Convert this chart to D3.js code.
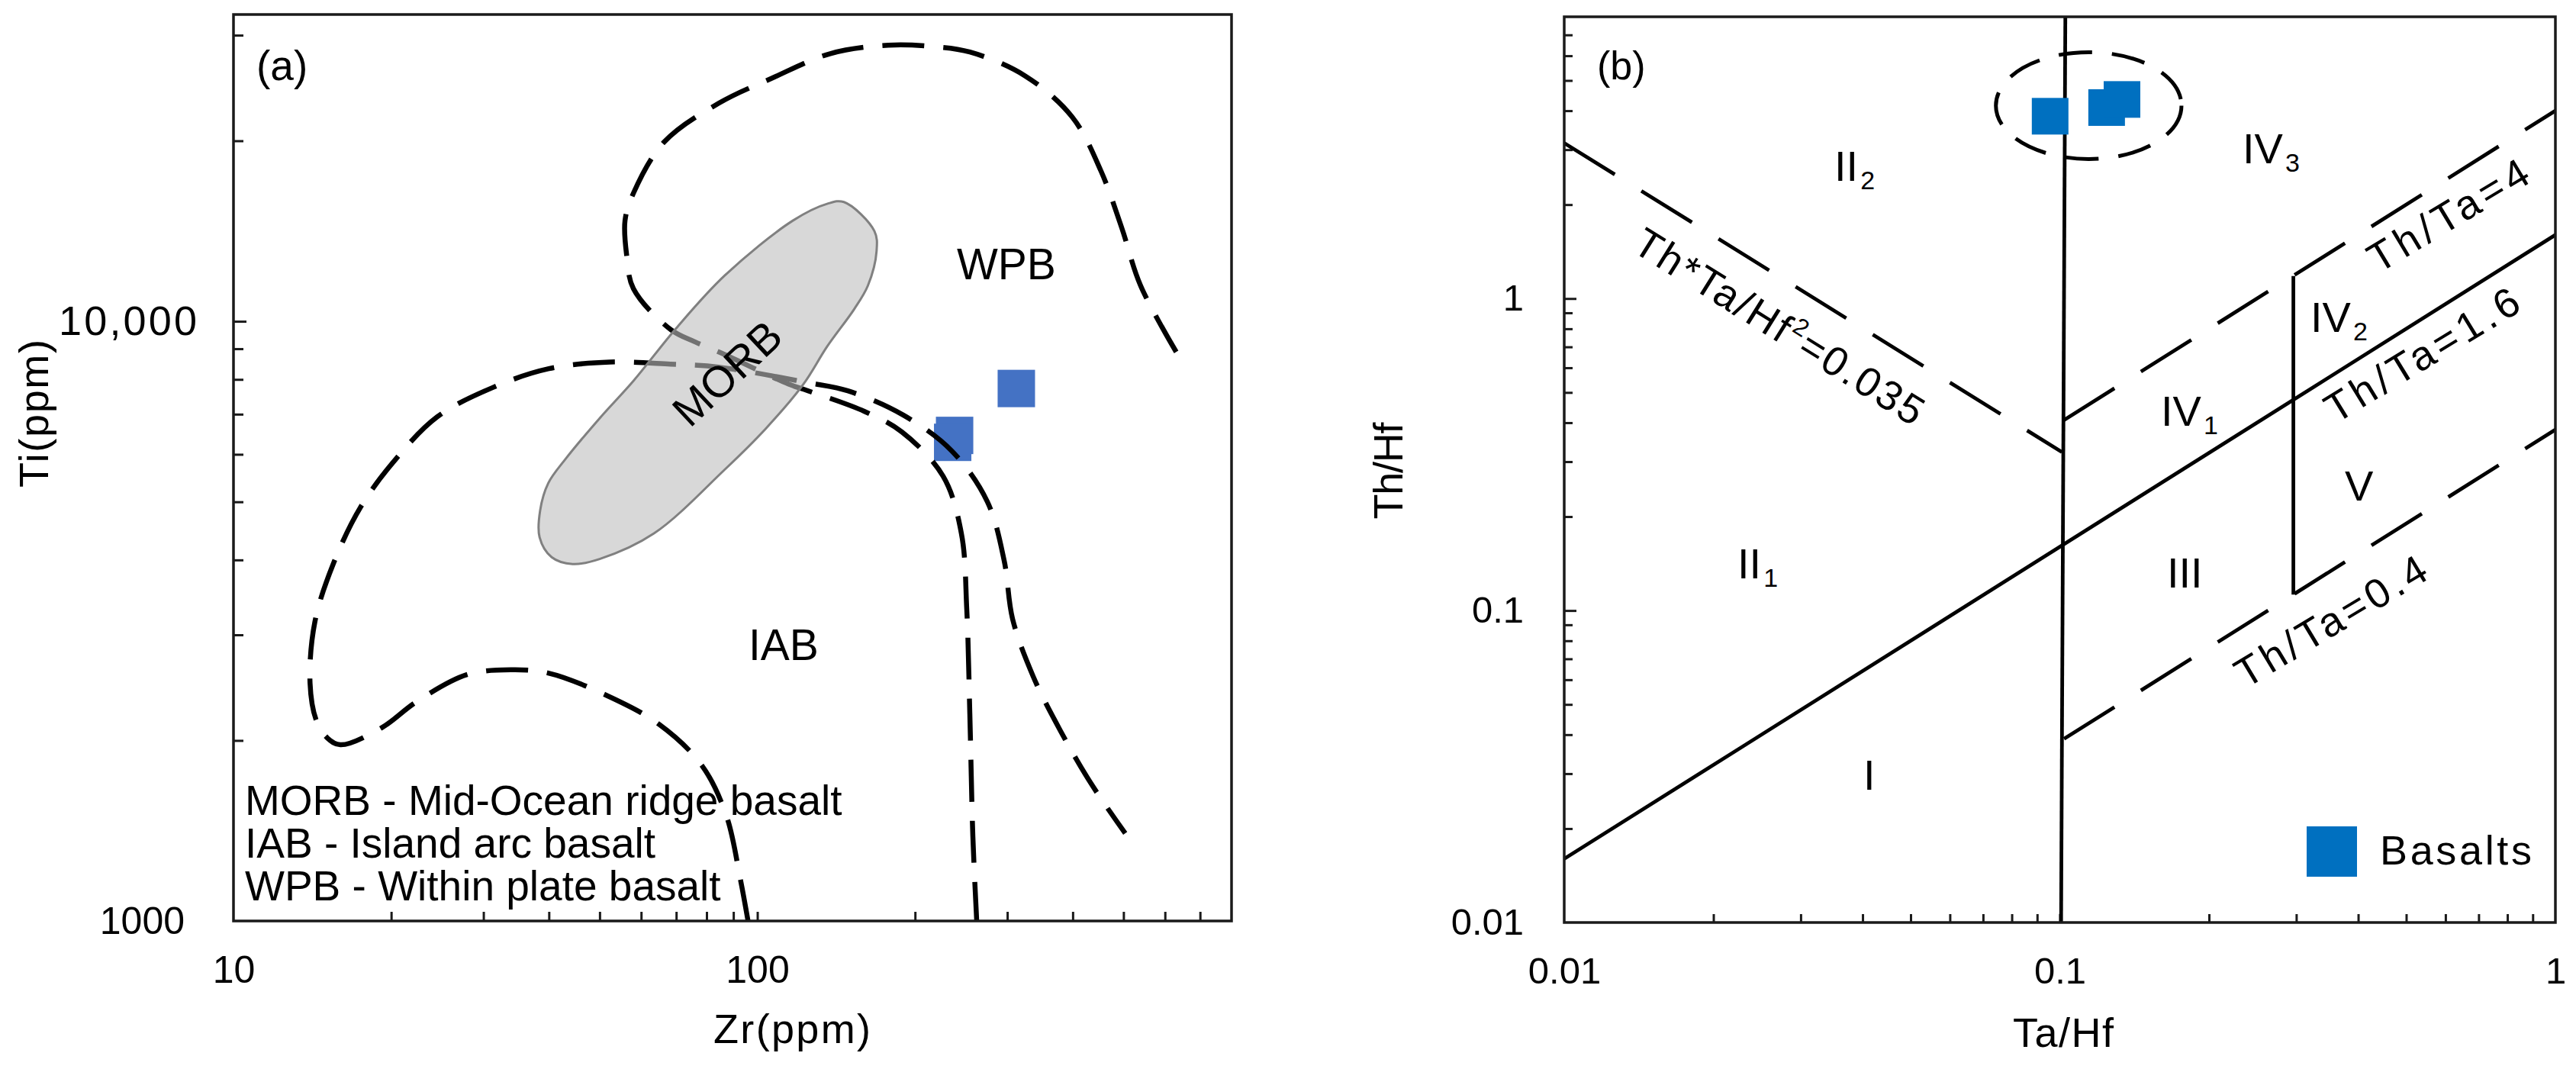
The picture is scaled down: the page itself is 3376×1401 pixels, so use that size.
<!DOCTYPE html>
<html>
<head>
<meta charset="utf-8">
<script src="https://cdn.jsdelivr.net/npm/d3@7/dist/d3.min.js"></script>
<style>
html,body{margin:0;padding:0;background:#fff;}
svg{display:block;}
text{font-family:"Liberation Sans",Arial,Helvetica,sans-serif;fill:#000;}
</style>
</head>
<body>
<svg id="chart" width="3376" height="1401"></svg>
<script>
// ================= DATA: panel (a) Ti vs Zr =================
const zrDomain = [10, 804];
const tiDomain = [1000, 32480];
const zrTickValues = [20,30,40,50,60,70,80,90,100,200,300,400,500,600,700];
const zrLabelValues = [10, 100];
const zrLabelText = ["10", "100"];
const tiTickValues = [2000,3000,4000,5000,6000,7000,8000,9000,10000,20000,30000];
const tiLabelValues = [1000, 10000];
const tiLabelText = ["1000", "10,000"];

// IAB field boundary (dashed)
const iabZr = [96,92.7,87.3,78.3,64.9,51.5,39.9,33.9,27.9,22.3,19.2,16.0,15.1,14.4,14.0,14.3,15.5,17.5,20.4,24.5,31.2,40.0,52.3,68.3,84.4,124.2,148.8,190.1,234.9,274.9,296,307.1,336.3,379.3,433.8,503.9];
const iabTi = [1000,1181,1497,1819,2129,2379,2591,2624,2575,2317,2101,1967,2020,2157,2494,3152,3937,4907,5888,6931,7749,8337,8551,8484,8385,7909,7657,6973,6084,5000,3986,3189,2556,2073,1694,1400];

// WPB field boundary (dashed)
const wpbZr = [630.5,539,496,453,399,324,254.5,214.5,177.8,137.8,106.8,84.4,66.3,58.0,55.9,56.3,58.0,68.4,76.1,85.6,114.6,125.0,160.2,188.8,226.3,245.2,251.1,254.5,257.9,262.3];
const wpbTi = [8890,11470,14330,17800,21920,25680,28120,28740,28870,27950,25450,23100,19880,16350,14720,12900,11340,9680,9237,8842,7860,7657,7074,6538,5515,4429,3304,2211,1384,1000];

// MORB field (closed outline)
const morbZr = [146.3,167.3,168.9,162.6,153.1,135.9,122.4,103.8,86.7,63.5,50.0,44.4,40.5,38.4,38.5,39.9,43.0,50.0,58.0,70.0,86.7,116.9,135.9];
const morbTi = [15810,14140,13090,11470,10480,9076,7850,6624,5662,4429,4015,3937,4042,4364,4841,5373,5888,6891,7954,9737,11930,14720,15700];

// Basalt samples
const sampleZr = [312.2, 238.0, 236.0];
const sampleTi = [7726, 6452, 6283];

// ================= DATA: panel (b) Th/Hf vs Ta/Hf =================
const taHfDomain = [0.01, 1];
const thHfDomain = [0.01, 8];
const taHfTickValues = [0.02,0.03,0.04,0.05,0.06,0.07,0.08,0.09,0.1,0.2,0.3,0.4,0.5,0.6,0.7,0.8,0.9];
const taHfLabelValues = [0.01, 0.1, 1];
const taHfLabelText = ["0.01", "0.1", "1"];
const thHfTickValues = [0.02,0.03,0.04,0.05,0.06,0.07,0.08,0.09,0.1,0.2,0.3,0.4,0.5,0.6,0.7,0.8,0.9,1,2,3,4,5,6,7];
const thHfLabelValues = [0.01, 0.1, 1];
const thHfLabelText = ["0.01", "0.1", "1"];

// boundary lines (end points)
const vLine01TaHf = [0.1006, 0.1026], vLine01ThHf = [0.01, 8];
const vLine03TaHf = [0.296, 0.296],   vLine03ThHf = [0.1125, 1.18];
const thTa16TaHf = [0.01, 1],   thTa16ThHf = [0.016, 1.6];
const thTa4TaHf  = [0.102, 1],  thTa4ThHf  = [0.408, 4];
const thTa04TaHf = [0.102, 1],  thTa04ThHf = [0.0388, 0.38];
const thTaHf2TaHf = [0.01, 0.101], thTaHf2ThHf = [3.15, 0.322];

// samples
const basaltTaHf = [0.0956, 0.1243, 0.1335];
const basaltThHf = [3.84, 4.094, 4.346];
// dashed ring around samples: extents
const ringTaHf = [0.0743, 0.176];
const ringThHf = [2.80, 6.16];

// ================= DRAW =================
const svg = d3.select("#chart");
const defs = svg.append("defs");

function styleAxis(g, fs) {
  g.attr("color", "#1a1a1a");
  g.select(".domain").remove();
  g.selectAll("line").attr("stroke-width", 3);
  g.selectAll("text").attr("font-size", fs).attr("fill", "#000");
}

// ---------- Panel A ----------
const A = {l:306, t:19, r:1614, b:1207};
const xA = d3.scaleLog().domain(zrDomain).range([A.l, A.r]);
const yA = d3.scaleLog().domain(tiDomain).range([A.b, A.t]);
const gA = svg.append("g");
defs.append("clipPath").attr("id","clipA").append("rect")
  .attr("x",A.l).attr("y",A.t).attr("width",A.r-A.l).attr("height",A.b-A.t);

// ticks
gA.append("g").attr("transform",`translate(0,${A.b})`)
  .call(d3.axisBottom(xA).tickValues(zrTickValues).tickSize(-12).tickFormat(""))
  .call(g=>styleAxis(g,50));
gA.append("g").attr("transform",`translate(${A.l},0)`)
  .call(d3.axisLeft(yA).tickValues(tiTickValues).tickSize(-13).tickFormat(""))
  .call(g=>styleAxis(g,50))
  .call(g=>g.selectAll(".tick").filter(d=>d===10000).select("line").attr("x2",17));
// labels
gA.append("g").attr("transform",`translate(0,${A.b})`)
  .call(d3.axisBottom(xA).tickValues(zrLabelValues).tickSize(0).tickPadding(45)
    .tickFormat(d=>zrLabelText[zrLabelValues.indexOf(d)]))
  .call(g=>styleAxis(g,50));
gA.append("g").attr("transform",`translate(${A.l},0)`)
  .call(d3.axisLeft(yA).tickValues(tiLabelValues).tickSize(0).tickPadding(48)
    .tickFormat(d=>tiLabelText[tiLabelValues.indexOf(d)]))
  .call(g=>styleAxis(g,50))
  .call(g=>{
    g.selectAll(".tick").filter(d=>d===1000).select("text").attr("x",-64);
    g.selectAll(".tick").filter(d=>d===10000).select("text").attr("font-size",54)
      .attr("textLength",181).attr("lengthAdjust","spacing");
  });

// samples (under the dashed curves)
gA.append("g").selectAll("rect").data(d3.zip(sampleZr, sampleTi)).join("rect")
  .attr("x",d=>xA(d[0])-24.5).attr("y",d=>yA(d[1])-24.5)
  .attr("width",49).attr("height",49).attr("fill","#4472C4");

const lineA = d3.line().x(d=>xA(d[0])).y(d=>yA(d[1])).curve(d3.curveCatmullRom.alpha(0.5));
const cA = gA.append("g").attr("clip-path","url(#clipA)");
cA.append("path").datum(d3.zip(iabZr, iabTi)).attr("d", lineA)
  .attr("fill","none").attr("stroke","#000").attr("stroke-width",6.5).attr("stroke-dasharray","55,25");
cA.append("path").datum(d3.zip(wpbZr, wpbTi)).attr("d", lineA)
  .attr("fill","none").attr("stroke","#000").attr("stroke-width",6.5).attr("stroke-dasharray","55,25");

// MORB field (semi-transparent over the curves)
const morbLine = d3.line().x(d=>xA(d[0])).y(d=>yA(d[1])).curve(d3.curveCatmullRomClosed.alpha(0.5));
cA.append("path").datum(d3.zip(morbZr, morbTi)).attr("d", morbLine)
  .attr("fill","rgb(190,190,190)").attr("fill-opacity",0.6)
  .attr("stroke","#808080").attr("stroke-width",3);

// texts panel A
gA.append("text").attr("x",336).attr("y",105).attr("font-size",55).text("(a)");
gA.append("text").attr("x",1254).attr("y",366).attr("font-size",57).text("WPB");
gA.append("text").attr("x",981).attr("y",865).attr("font-size",57).text("IAB");
gA.append("text").attr("transform","translate(904,562) rotate(-43)").attr("font-size",57).text("MORB");
const legA = ["MORB - Mid-Ocean ridge basalt","IAB - Island arc basalt","WPB - Within plate basalt"];
legA.forEach((s,i)=>gA.append("text").attr("x",321).attr("y",1068+56*i).attr("font-size",55).text(s));
gA.append("text").attr("x",1038).attr("y",1367).attr("font-size",54).attr("text-anchor","middle")
  .attr("textLength",206).attr("lengthAdjust","spacing").text("Zr(ppm)");
gA.append("text").attr("transform","translate(63,542) rotate(-90)").attr("font-size",54)
  .attr("text-anchor","middle").attr("textLength",194).attr("lengthAdjust","spacing").text("Ti(ppm)");

// frame A
gA.append("rect").attr("x",A.l).attr("y",A.t).attr("width",A.r-A.l).attr("height",A.b-A.t)
  .attr("fill","none").attr("stroke","#1a1a1a").attr("stroke-width",3.5);

// ---------- Panel B ----------
const B = {l:2050, t:22, r:3349, b:1209};
const xB = d3.scaleLog().domain(taHfDomain).range([B.l, B.r]);
const yB = d3.scaleLog().domain(thHfDomain).range([B.b, B.t]);
const gB = svg.append("g");
defs.append("clipPath").attr("id","clipB").append("rect")
  .attr("x",B.l).attr("y",B.t).attr("width",B.r-B.l).attr("height",B.b-B.t);

gB.append("g").attr("transform",`translate(0,${B.b})`)
  .call(d3.axisBottom(xB).tickValues(taHfTickValues).tickSize(-11).tickFormat(""))
  .call(g=>styleAxis(g,48));
gB.append("g").attr("transform",`translate(${B.l},0)`)
  .call(d3.axisLeft(yB).tickValues(thHfTickValues).tickSize(-11).tickFormat(""))
  .call(g=>styleAxis(g,48))
  .call(g=>g.selectAll(".tick").filter(d=>d===1||d===0.1).select("line").attr("x2",16));
gB.append("g").attr("transform",`translate(0,${B.b})`)
  .call(d3.axisBottom(xB).tickValues(taHfLabelValues).tickSize(0).tickPadding(45)
    .tickFormat(d=>taHfLabelText[taHfLabelValues.indexOf(d)]))
  .call(g=>styleAxis(g,49));
gB.append("g").attr("transform",`translate(${B.l},0)`)
  .call(d3.axisLeft(yB).tickValues(thHfLabelValues).tickSize(0).tickPadding(53)
    .tickFormat(d=>thHfLabelText[thHfLabelValues.indexOf(d)]))
  .call(g=>styleAxis(g,49));

const lineB = d3.line().x(d=>xB(d[0])).y(d=>yB(d[1]));
const cB = gB.append("g").attr("clip-path","url(#clipB)");
function bLine(xs, ys, dashed) {
  const p = cB.append("path").datum(d3.zip(xs, ys)).attr("d", lineB)
    .attr("fill","none").attr("stroke","#000").attr("stroke-width",4.8);
  if (dashed) p.attr("stroke-dasharray","78,41");
  return p;
}
bLine(thTaHf2TaHf, thTaHf2ThHf, true);
bLine(thTa4TaHf, thTa4ThHf, true);
bLine(thTa04TaHf, thTa04ThHf, true);
bLine(thTa16TaHf, thTa16ThHf, false);
bLine(vLine03TaHf, vLine03ThHf, false);
bLine(vLine01TaHf, vLine01ThHf, false);

// ring around samples
{
  const x0 = xB(ringTaHf[0]), x1 = xB(ringTaHf[1]);
  const y0 = yB(ringThHf[1]), y1 = yB(ringThHf[0]);
  cB.append("ellipse").attr("cx",(x0+x1)/2).attr("cy",(y0+y1)/2)
    .attr("rx",(x1-x0)/2).attr("ry",(y1-y0)/2)
    .attr("fill","none").attr("stroke","#000").attr("stroke-width",5)
    .attr("stroke-dasharray","44,26");
}
// samples
gB.append("g").selectAll("rect").data(d3.zip(basaltTaHf, basaltThHf)).join("rect")
  .attr("x",d=>xB(d[0])-24).attr("y",d=>yB(d[1])-24)
  .attr("width",48).attr("height",48).attr("fill","#0070C0");

// region labels
function roman(x, y, main, sub) {
  const t = gB.append("text").attr("x",x).attr("y",y).attr("font-size",56);
  t.append("tspan").text(main);
  if (sub) t.append("tspan").attr("font-size",34).attr("dx",3).attr("dy",11).text(sub);
}
roman(2404, 237, "II", "2");
roman(2939, 214, "IV", "3");
roman(3028, 435, "IV", "2");
roman(2832, 558, "IV", "1");
roman(3073, 656, "V");
roman(2277, 758, "II", "1");
roman(2840, 770, "III");
roman(2442, 1035, "I");

// rotated line labels
{
  const t = gB.append("text").attr("transform","translate(2137,328) rotate(32)")
    .attr("font-size",54).attr("letter-spacing",3);
  t.append("tspan").text("Th*Ta/Hf");
  t.append("tspan").attr("font-size",32).attr("dy",-22).text("2");
  t.append("tspan").attr("dy",22).text("=0.035");
}
function rotLabel(x, y, ang, txt, len) {
  gB.append("text").attr("transform",`translate(${x},${y}) rotate(${ang})`)
    .attr("font-size",54).attr("textLength",len).attr("lengthAdjust","spacing").text(txt);
}
rotLabel(3117, 359, -31, "Th/Ta=4", 236);
rotLabel(3061, 556, -31.4, "Th/Ta=1.6", 288);
rotLabel(2943, 903, -31, "Th/Ta=0.4", 283);

gB.append("text").attr("x",2093).attr("y",104).attr("font-size",52).text("(b)");

// legend
gB.append("rect").attr("x",3023).attr("y",1083).attr("width",66).attr("height",66).attr("fill","#0070C0");
gB.append("text").attr("x",3119).attr("y",1133).attr("font-size",54)
  .attr("textLength",199).attr("lengthAdjust","spacing").text("Basalts");

// axis titles
gB.append("text").attr("x",2704).attr("y",1372).attr("font-size",54).attr("text-anchor","middle")
  .attr("textLength",132).attr("lengthAdjust","spacing").text("Ta/Hf");
gB.append("text").attr("transform","translate(1838,617) rotate(-90)").attr("font-size",54)
  .attr("text-anchor","middle").attr("textLength",127).attr("lengthAdjust","spacing").text("Th/Hf");

// frame B
gB.append("rect").attr("x",B.l).attr("y",B.t).attr("width",B.r-B.l).attr("height",B.b-B.t)
  .attr("fill","none").attr("stroke","#1a1a1a").attr("stroke-width",3.5);
</script>
</body>
</html>
